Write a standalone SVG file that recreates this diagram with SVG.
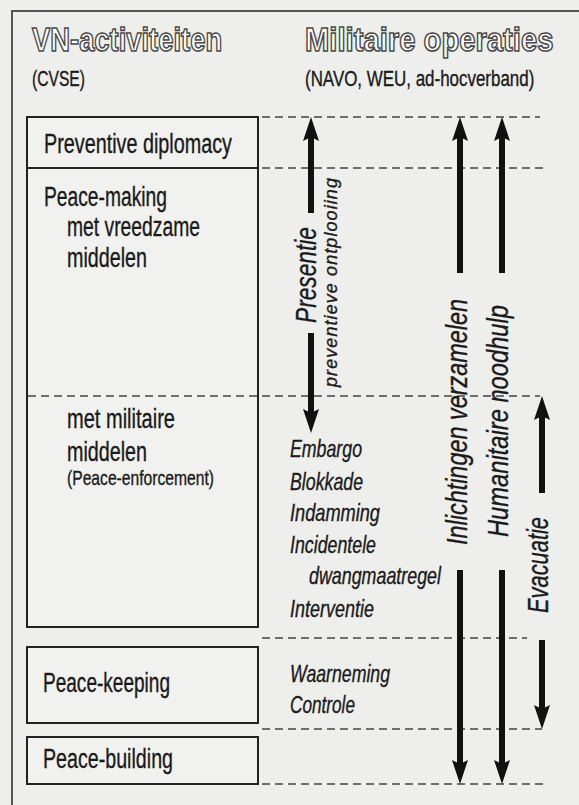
<svg xmlns="http://www.w3.org/2000/svg" width="579" height="805" viewBox="0 0 579 805">
<style>
.bg{fill:#eeeeec}
.frame{fill:none;stroke:#555;stroke-width:2}
.box{fill:#f1f1ef;stroke:#222;stroke-width:2}
.t{font-family:"Liberation Sans",Arial,sans-serif;fill:#1a1a1a;stroke:#1a1a1a;stroke-width:0.35}
.lbl{font-size:27px}
.small{font-size:21px}
.it{font-size:24px;font-style:italic}
.rot{font-size:30px;font-style:italic}
.title{font-family:"Liberation Sans",Arial,sans-serif;font-weight:bold;font-size:34px;fill:#ffffff;stroke:#4a4a4a;stroke-width:1.6}
.sub{font-size:22px}
.dash{stroke:#444;stroke-width:1.7;stroke-dasharray:8 5;fill:none}
.shaft{stroke:#111;stroke-width:6;fill:none;marker-end:url(#head)}
</style>
<defs>
<marker id="head" viewBox="0 0 24 16" refX="4" refY="8" markerWidth="24" markerHeight="16" markerUnits="userSpaceOnUse" orient="auto">
<path d="M0,0 L24,8 L0,16 L4,8 Z" fill="#111"/>
</marker>
</defs>
<rect class="bg" x="0" y="0" width="579" height="805"/>
<path class="frame" d="M12,805 L12,11 L579,11"/>

<g id="headers">
<text class="title" transform="translate(32,51) scale(0.805,1)">VN-activiteiten</text>
<text class="t sub" transform="translate(32,86) scale(0.71,1)">(CVSE)</text>
<text class="title" transform="translate(305,51) scale(0.86,1)">Militaire operaties</text>
<text class="t sub" transform="translate(305,86) scale(0.77,1)">(NAVO, WEU, ad-hocverband)</text>
</g>

<g id="preventive-diplomacy">
<rect class="box" x="27" y="117" width="231" height="51"/>
<text class="t lbl" x="44" y="153" textLength="188" lengthAdjust="spacingAndGlyphs">Preventive diplomacy</text>
</g>
<g id="peace-making">
<rect class="box" x="27" y="168" width="231" height="459"/>
<text class="t lbl" x="44" y="206" textLength="123" lengthAdjust="spacingAndGlyphs">Peace-making</text>
<text class="t lbl" x="67" y="236" textLength="133" lengthAdjust="spacingAndGlyphs">met vreedzame</text>
<text class="t lbl" x="67" y="267" textLength="80" lengthAdjust="spacingAndGlyphs">middelen</text>
<text class="t lbl" x="67" y="428" textLength="108" lengthAdjust="spacingAndGlyphs">met militaire</text>
<text class="t lbl" x="67" y="461" textLength="80" lengthAdjust="spacingAndGlyphs">middelen</text>
<text class="t small" x="67" y="485" textLength="147" lengthAdjust="spacingAndGlyphs">(Peace-enforcement)</text>
</g>
<g id="peace-keeping">
<rect class="box" x="27" y="647" width="231" height="76"/>
<text class="t lbl" x="43" y="692" textLength="127" lengthAdjust="spacingAndGlyphs">Peace-keeping</text>
</g>
<g id="peace-building">
<rect class="box" x="27" y="737" width="231" height="47"/>
<text class="t lbl" x="43" y="768" textLength="130" lengthAdjust="spacingAndGlyphs">Peace-building</text>
</g>

<g id="operations">
<text class="t it" x="290" y="457" textLength="72" lengthAdjust="spacingAndGlyphs">Embargo</text>
<text class="t it" x="290" y="490" textLength="73" lengthAdjust="spacingAndGlyphs">Blokkade</text>
<text class="t it" x="290" y="521" textLength="90" lengthAdjust="spacingAndGlyphs">Indamming</text>
<text class="t it" x="290" y="553" textLength="86" lengthAdjust="spacingAndGlyphs">Incidentele</text>
<text class="t it" x="309" y="584" textLength="132" lengthAdjust="spacingAndGlyphs">dwangmaatregel</text>
<text class="t it" x="290" y="617" textLength="84" lengthAdjust="spacingAndGlyphs">Interventie</text>
<text class="t it" x="290" y="682" textLength="100" lengthAdjust="spacingAndGlyphs">Waarneming</text>
<text class="t it" x="290" y="713" textLength="65" lengthAdjust="spacingAndGlyphs">Controle</text>
</g>

<g id="connectors">
<line class="dash" x1="262" y1="117" x2="540" y2="117"/>
<line class="dash" x1="262" y1="168" x2="543" y2="168"/>
<line class="dash" x1="28" y1="396" x2="540" y2="396"/>
<line class="dash" x1="262" y1="638" x2="527" y2="638"/>
<line class="dash" x1="262" y1="729" x2="542" y2="729"/>
<line class="dash" x1="262" y1="784" x2="543" y2="784"/>

<line class="shaft" x1="311" y1="213" x2="311" y2="137"/>
<line class="shaft" x1="311" y1="333" x2="311" y2="413"/>
<line class="shaft" x1="460" y1="273" x2="460" y2="137"/>
<line class="shaft" x1="460" y1="570" x2="460" y2="764"/>
<line class="shaft" x1="502" y1="273" x2="502" y2="137"/>
<line class="shaft" x1="502" y1="570" x2="502" y2="764"/>
<line class="shaft" x1="542" y1="493" x2="542" y2="416"/>
<line class="shaft" x1="542" y1="640" x2="542" y2="709"/>
</g>

<g id="arrow-labels">
<text class="t rot" transform="translate(316,323) rotate(-90)" textLength="96" lengthAdjust="spacingAndGlyphs">Presentie</text>
<text class="t" style="font-size:18px;font-style:italic" transform="translate(337,387) rotate(-90)" textLength="209" lengthAdjust="spacing">preventieve ontplooiing</text>
<text class="t rot" transform="translate(467,545) rotate(-90)" textLength="246" lengthAdjust="spacingAndGlyphs">Inlichtingen verzamelen</text>
<text class="t rot" transform="translate(508,537) rotate(-90)" textLength="232" lengthAdjust="spacingAndGlyphs">Humanitaire noodhulp</text>
<text class="t rot" transform="translate(548,613) rotate(-90)" textLength="96" lengthAdjust="spacingAndGlyphs">Evacuatie</text>
</g>
</svg>
